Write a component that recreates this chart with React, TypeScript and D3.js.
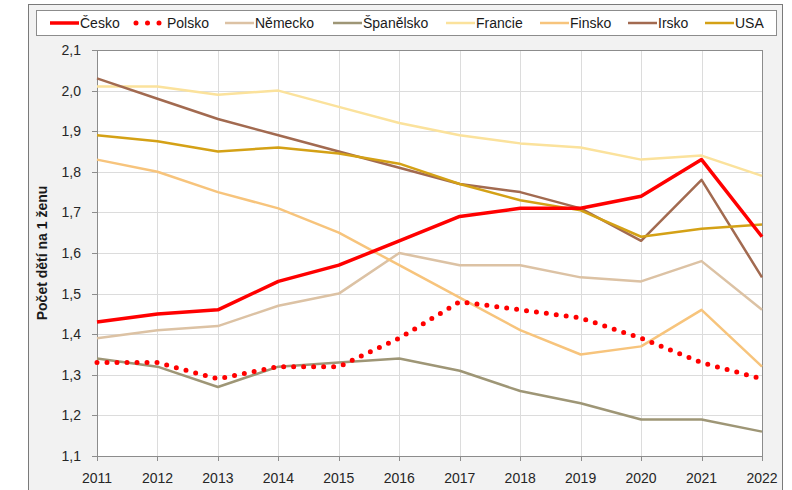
import React from "react";
import * as d3 from "d3";

const years = [2011, 2012, 2013, 2014, 2015, 2016, 2017, 2018, 2019, 2020, 2021, 2022];
const cesko = [1.43, 1.45, 1.46, 1.53, 1.57, 1.63, 1.69, 1.71, 1.71, 1.74, 1.83, 1.64];
const polsko = [1.33, 1.33, 1.29, 1.32, 1.32, 1.39, 1.48, 1.46, 1.44, 1.39, 1.33, 1.29];
const nemecko = [1.39, 1.41, 1.42, 1.47, 1.5, 1.6, 1.57, 1.57, 1.54, 1.53, 1.58, 1.46];
const spanelsko = [1.34, 1.32, 1.27, 1.32, 1.33, 1.34, 1.31, 1.26, 1.23, 1.19, 1.19, 1.16];
const francie = [2.01, 2.01, 1.99, 2.0, 1.96, 1.92, 1.89, 1.87, 1.86, 1.83, 1.84, 1.79];
const finsko = [1.83, 1.8, 1.75, 1.71, 1.65, 1.57, 1.49, 1.41, 1.35, 1.37, 1.46, 1.32];
const irsko = [2.03, 1.98, 1.93, 1.89, 1.85, 1.81, 1.77, 1.75, 1.71, 1.63, 1.78, 1.54];
const usa = [1.89, 1.875, 1.85, 1.86, 1.845, 1.82, 1.77, 1.73, 1.705, 1.64, 1.66, 1.67];
const yTicks = [1.1, 1.2, 1.3, 1.4, 1.5, 1.6, 1.7, 1.8, 1.9, 2.0, 2.1];
const yTitle = "Počet dětí na 1 ženu";

const seriesNames = ["Česko", "Polsko", "Německo", "Španělsko", "Francie", "Finsko", "Irsko", "USA"];
const seriesValues = [cesko, polsko, nemecko, spanelsko, francie, finsko, irsko, usa];
const seriesColors = ["#ff0000", "#ff0000", "#dcc2a4", "#9e9676", "#fbe29c", "#f7c47c", "#a26a50", "#d4a116"];
const seriesWidths = [3.5, 5, 2.5, 2.5, 2.5, 2.5, 2.5, 2.5];
const seriesDotted = [false, true, false, false, false, false, false, false];
const drawOrder = [2, 3, 4, 5, 6, 7, 1, 0];
const legendX = [50, 133, 225, 333, 446, 540, 628, 705];

const W = 792, H = 490;
const L = 97, R = 762, T = 50, B = 456;
const font = "'Liberation Sans', Arial, sans-serif";

export default function App() {
  const x = d3.scaleLinear().domain([2011, 2022]).range([L, R]);
  const y = d3.scaleLinear().domain([1.1, 2.1]).range([B, T]);
  const line = d3.line<number>().x((_, i) => x(years[i])).y((d) => y(d));
  const fmt = (v: number) => v.toFixed(1).replace(".", ",");

  return (
    <div style={{ position: "absolute", left: 0, top: 0 }}>
      <svg width={W} height={H} style={{ display: "block" }}>
        <rect x={0} y={0} width={W} height={H} fill="#ffffff" />
        <rect x={28.5} y={4.5} width={754} height={500} fill="#f2f2f2" stroke="#7a7a7a" strokeWidth={1} />
        {/* legend */}
        <rect x={36.5} y={10.5} width={740} height={25} fill="#ffffff" stroke="#8c8c8c" strokeWidth={1} />
        {seriesNames.map((n, i) => (
          <g key={n}>
            {seriesDotted[i] ? (
              <line x1={legendX[i] + 3} x2={legendX[i] + 29} y1={23} y2={23} stroke={seriesColors[i]} strokeWidth={5} strokeLinecap="round" strokeDasharray="0 11.5" />
            ) : (
              <line x1={legendX[i]} x2={legendX[i] + 29} y1={23} y2={23} stroke={seriesColors[i]} strokeWidth={seriesWidths[i]} />
            )}
            <text x={legendX[i] + (seriesDotted[i] ? 34 : 30)} y={28} fontFamily={font} fontSize={14} fill="#1a1a1a">{n}</text>
          </g>
        ))}
        {/* plot */}
        <rect x={L} y={T} width={R - L} height={B - T} fill="#ffffff" />
        {yTicks.map((t) => (
          <line key={"hg" + t} x1={L} x2={R} y1={Math.round(y(t)) + 0.5} y2={Math.round(y(t)) + 0.5} stroke="#dcdcdc" strokeWidth={1} />
        ))}
        {years.map((yr) => (
          <line key={"vg" + yr} x1={Math.round(x(yr)) + 0.5} x2={Math.round(x(yr)) + 0.5} y1={T} y2={B} stroke="#dcdcdc" strokeWidth={1} />
        ))}
        <line x1={L} x2={R} y1={T + 0.5} y2={T + 0.5} stroke="#8c8c8c" />
        <line x1={R + 0.5} x2={R + 0.5} y1={T} y2={B} stroke="#8c8c8c" />
        <line x1={L + 0.5} x2={L + 0.5} y1={T} y2={B + 5} stroke="#8c8c8c" />
        <line x1={L - 5} x2={R + 1} y1={B + 0.5} y2={B + 0.5} stroke="#8c8c8c" />
        {yTicks.map((t) => (
          <g key={"yt" + t}>
            <line x1={L - 5} x2={L} y1={Math.round(y(t)) + 0.5} y2={Math.round(y(t)) + 0.5} stroke="#8c8c8c" />
            <text x={81} y={y(t) + 5} textAnchor="end" fontFamily={font} fontSize={14} fill="#262626">{fmt(t)}</text>
          </g>
        ))}
        {years.map((yr) => (
          <g key={"xt" + yr}>
            <line x1={Math.round(x(yr)) + 0.5} x2={Math.round(x(yr)) + 0.5} y1={B} y2={B + 5} stroke="#8c8c8c" />
            <text x={x(yr)} y={483} textAnchor="middle" fontFamily={font} fontSize={14} fill="#262626">{yr}</text>
          </g>
        ))}
        <text transform={`translate(47,${(T + B) / 2}) rotate(-90)`} textAnchor="middle" fontFamily={font} fontSize={14} fontWeight="bold" fill="#1a1a1a">{yTitle}</text>
        {drawOrder.map((i) => (
          <path
            key={"s" + i}
            d={line(seriesValues[i]) || ""}
            fill="none"
            stroke={seriesColors[i]}
            strokeWidth={seriesWidths[i]}
            strokeLinejoin="round"
            strokeLinecap={seriesDotted[i] ? "round" : "butt"}
            strokeDasharray={seriesDotted[i] ? "0 10" : undefined}
          />
        ))}
      </svg>
    </div>
  );
}
